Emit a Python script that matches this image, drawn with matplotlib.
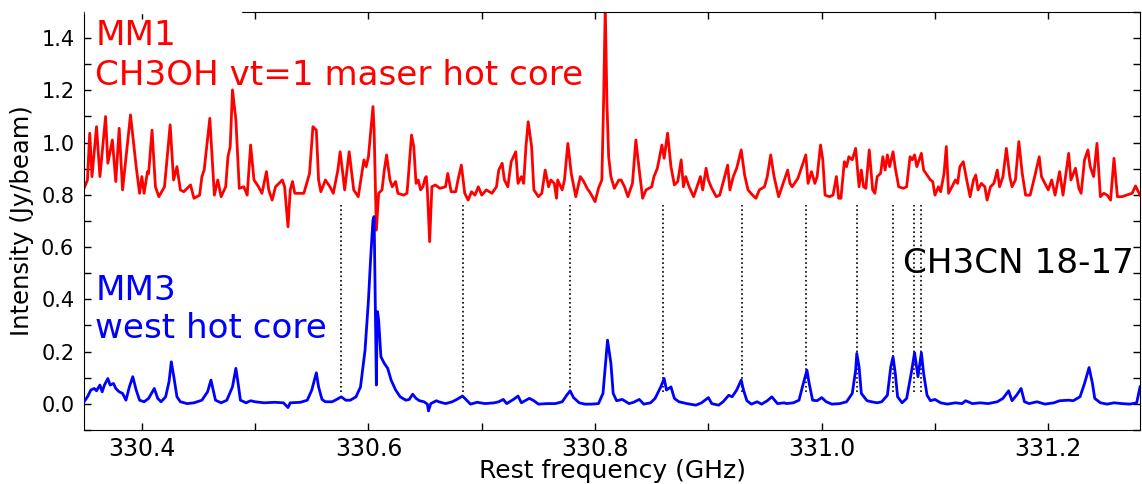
#!/usr/bin/env python3
"""
Espectro MM1 / MM3 na faixa de 330.35-331.28 GHz com as componentes
K de CH3CN 18-17 marcadas por linhas pontilhadas.
"""

import matplotlib
matplotlib.use("Agg")
import matplotlib.pyplot as plt
from matplotlib.ticker import MultipleLocator

# MM1 (CH3OH vt=1 maser hot core), deslocado de +0.8
mm1_freq = [
    330.349, 330.352, 330.354, 330.356, 330.360, 330.363, 330.368, 330.370, 330.374, 330.377,
    330.380, 330.383, 330.390, 330.393, 330.395, 330.398, 330.400, 330.402, 330.405, 330.406,
    330.409, 330.412, 330.415, 330.420, 330.425, 330.428, 330.431, 330.434, 330.437, 330.443,
    330.446, 330.451, 330.453, 330.455, 330.460, 330.464, 330.467, 330.470, 330.474, 330.476,
    330.478, 330.480, 330.483, 330.486, 330.490, 330.493, 330.496, 330.499, 330.503, 330.506,
    330.510, 330.512, 330.515, 330.518, 330.524, 330.526, 330.529, 330.531, 330.533, 330.535,
    330.543, 330.548, 330.551, 330.554, 330.556, 330.558, 330.562, 330.566, 330.569, 330.573,
    330.575, 330.577, 330.579, 330.583, 330.587, 330.591, 330.596, 330.598, 330.600, 330.604,
    330.605, 330.607, 330.609, 330.612, 330.614, 330.616, 330.619, 330.621, 330.624, 330.626,
    330.631, 330.634, 330.635, 330.638, 330.640, 330.642, 330.644, 330.646, 330.648, 330.650,
    330.651, 330.652, 330.654, 330.656, 330.659, 330.663, 330.668, 330.670, 330.673, 330.677,
    330.679, 330.682, 330.685, 330.688, 330.691, 330.694, 330.697, 330.700, 330.704, 330.709,
    330.713, 330.715, 330.718, 330.720, 330.723, 330.726, 330.730, 330.732, 330.735, 330.737,
    330.739, 330.741, 330.744, 330.746, 330.750, 330.753, 330.756, 330.759, 330.761, 330.764,
    330.766, 330.767, 330.771, 330.773, 330.776, 330.779, 330.783, 330.787, 330.790, 330.793,
    330.796, 330.800, 330.803, 330.806, 330.8075, 330.809, 330.8105, 330.812, 330.814, 330.817,
    330.821, 330.823, 330.826, 330.829, 330.833, 330.836, 330.839, 330.842, 330.845, 330.850,
    330.852, 330.855, 330.859, 330.861, 330.864, 330.867, 330.870, 330.873, 330.876, 330.878,
    330.880, 330.883, 330.887, 330.891, 330.893, 330.895, 330.898, 330.900, 330.903, 330.907,
    330.910, 330.914, 330.917, 330.919, 330.922, 330.925, 330.929, 330.932, 330.935, 330.939,
    330.942, 330.945, 330.9495, 330.952, 330.955, 330.958, 330.962, 330.965, 330.967, 330.970,
    330.972, 330.974, 330.979, 330.982, 330.986, 330.988, 330.991, 330.994, 330.996, 330.999,
    331.001, 331.003, 331.007, 331.010, 331.013, 331.015, 331.017, 331.020, 331.022, 331.024,
    331.027, 331.030, 331.033, 331.035, 331.037, 331.039, 331.042, 331.045, 331.047, 331.049,
    331.052, 331.054, 331.056, 331.058, 331.060, 331.063, 331.065, 331.068, 331.072, 331.075,
    331.078, 331.080, 331.082, 331.084, 331.088, 331.090, 331.093, 331.096, 331.098, 331.100,
    331.103, 331.105, 331.108, 331.110, 331.112, 331.115, 331.118, 331.120, 331.122, 331.125,
    331.128, 331.131, 331.134, 331.136, 331.138, 331.141, 331.144, 331.146, 331.149, 331.152,
    331.155, 331.157, 331.160, 331.163, 331.166, 331.168, 331.171, 331.174, 331.177, 331.180,
    331.184, 331.188, 331.192, 331.194, 331.197, 331.200, 331.203, 331.206, 331.210, 331.213,
    331.215, 331.218, 331.220, 331.224, 331.227, 331.229, 331.232, 331.235, 331.237, 331.240,
    331.243, 331.246, 331.249, 331.252, 331.255, 331.258, 331.261, 331.265, 331.269, 331.274,
    331.277, 331.281,
]
mm1_flux = [
    0.825, 0.857, 1.036, 0.870, 1.061, 0.870, 1.100, 0.921, 1.010, 0.851,
    1.055, 0.819, 1.106, 0.985, 0.908, 0.806, 0.870, 0.806, 0.889, 0.882,
    1.048, 0.831, 0.793, 0.831, 1.068, 0.857, 0.908, 0.819, 0.812, 0.838,
    0.787, 0.799, 0.870, 0.895, 1.093, 0.799, 0.857, 0.793, 0.831, 0.946,
    0.985, 1.202, 1.087, 0.825, 0.831, 0.799, 0.991, 0.857, 0.831, 0.806,
    0.889, 0.819, 0.780, 0.831, 0.857, 0.831, 0.678, 0.819, 0.851, 0.806,
    0.806, 0.882, 1.061, 1.048, 0.857, 0.812, 0.857, 0.831, 0.806, 0.895,
    0.965, 0.895, 0.819, 0.965, 0.819, 0.793, 0.934, 0.908, 0.946, 1.138,
    1.048, 0.665, 0.806, 0.819, 0.895, 0.953, 0.857, 0.831, 0.851, 0.806,
    0.799, 0.806, 0.857, 1.029, 0.985, 0.844, 0.857, 0.819, 0.831, 0.863,
    0.870, 0.819, 0.621, 0.831, 0.838, 0.825, 0.831, 0.882, 0.812, 0.812,
    0.857, 0.914, 0.806, 0.780, 0.812, 0.799, 0.831, 0.799, 0.819, 0.806,
    0.831, 0.895, 0.921, 0.857, 0.831, 0.927, 0.965, 0.844, 0.870, 0.844,
    0.985, 1.080, 0.985, 0.819, 0.793, 0.806, 0.895, 0.831, 0.857, 0.844,
    0.787, 0.857, 0.819, 0.857, 0.997, 0.882, 0.793, 0.870, 0.851, 0.825,
    0.806, 0.774, 0.825, 0.857, 1.150, 1.520, 1.150, 0.946, 0.870, 0.825,
    0.857, 0.857, 0.831, 0.793, 0.844, 1.010, 0.895, 0.787, 0.819, 0.831,
    0.870, 0.902, 0.991, 0.940, 1.036, 0.908, 0.838, 0.851, 0.934, 0.831,
    0.870, 0.831, 0.793, 0.844, 0.870, 0.819, 0.902, 0.857, 0.825, 0.793,
    0.799, 0.863, 0.914, 0.819, 0.870, 0.902, 0.972, 0.876, 0.819, 0.799,
    0.787, 0.819, 0.831, 0.870, 0.953, 0.870, 0.793, 0.831, 0.857, 0.895,
    0.844, 0.831, 0.863, 0.902, 0.953, 0.844, 0.889, 0.844, 0.870, 0.991,
    0.934, 0.799, 0.793, 0.799, 0.870, 0.787, 0.787, 0.927, 0.908, 0.946,
    0.934, 0.978, 0.831, 0.895, 0.831, 0.825, 0.972, 0.819, 0.806, 0.870,
    0.882, 0.946, 0.895, 0.953, 0.908, 0.965, 0.902, 0.831, 0.825, 0.831,
    0.946, 0.934, 0.953, 0.908, 0.959, 0.895, 0.876, 0.857, 0.851, 0.799,
    0.831, 0.812, 0.882, 0.985, 0.806, 0.831, 0.857, 0.844, 0.908, 0.927,
    0.857, 0.793, 0.857, 0.876, 0.819, 0.844, 0.831, 0.780, 0.831, 0.844,
    0.895, 0.831, 0.870, 0.978, 0.870, 0.831, 0.857, 1.004, 0.882, 0.799,
    0.799, 0.870, 0.946, 0.870, 0.844, 0.819, 0.857, 0.799, 0.889, 0.799,
    0.863, 0.959, 0.857, 0.902, 0.825, 0.806, 0.934, 0.972, 0.908, 0.870,
    0.997, 0.793, 0.806, 0.799, 0.780, 0.940, 0.793, 0.793, 0.799, 0.806,
    0.834, 0.799,
]

# MM3 (west hot core)
mm3_freq = [
    330.349, 330.352, 330.355, 330.358, 330.360, 330.363, 330.365, 330.367, 330.370, 330.372,
    330.375, 330.377, 330.380, 330.383, 330.386, 330.389, 330.392, 330.395, 330.398, 330.402,
    330.406, 330.411, 330.414, 330.417, 330.421, 330.424, 330.426, 330.428, 330.431, 330.434,
    330.440, 330.446, 330.453, 330.458, 330.461, 330.463, 330.465, 330.470, 330.475, 330.480,
    330.483, 330.485, 330.487, 330.492, 330.496, 330.500, 330.508, 330.517, 330.525, 330.529,
    330.531, 330.540, 330.546, 330.550, 330.554, 330.556, 330.559, 330.562, 330.568, 330.572,
    330.576, 330.580, 330.584, 330.589, 330.593, 330.597, 330.600, 330.602, 330.604, 330.605,
    330.606, 330.607, 330.6075, 330.608, 330.609, 330.611, 330.614, 330.617, 330.620, 330.624,
    330.628, 330.633, 330.636, 330.639, 330.642, 330.645, 330.649, 330.652, 330.653, 330.655,
    330.660, 330.662, 330.668, 330.674, 330.678, 330.683, 330.686, 330.690, 330.696, 330.703,
    330.711, 330.715, 330.719, 330.722, 330.728, 330.732, 330.735, 330.739, 330.742, 330.746,
    330.750, 330.758, 330.765, 330.771, 330.775, 330.778, 330.781, 330.786, 330.791, 330.797,
    330.803, 330.807, 330.809, 330.811, 330.814, 330.816, 330.819, 330.824, 330.830, 330.834,
    330.839, 330.843, 330.849, 330.853, 330.858, 330.861, 330.863, 330.867, 330.870, 330.874,
    330.881, 330.889, 330.894, 330.900, 330.903, 330.909, 330.913, 330.918, 330.921, 330.925,
    330.929, 330.931, 330.934, 330.938, 330.943, 330.947, 330.952, 330.956, 330.961, 330.967,
    330.969, 330.975, 330.980, 330.983, 330.987, 330.989, 330.992, 330.996, 331.000, 331.004,
    331.009, 331.016, 331.022, 331.027, 331.030, 331.031, 331.033, 331.035, 331.040, 331.044,
    331.049, 331.053, 331.058, 331.061, 331.063, 331.065, 331.067, 331.071, 331.075, 331.079,
    331.082, 331.085, 331.088, 331.090, 331.093, 331.096, 331.100, 331.105, 331.111, 331.118,
    331.124, 331.127, 331.133, 331.140, 331.147, 331.155, 331.160, 331.165, 331.168, 331.172,
    331.176, 331.179, 331.183, 331.190, 331.197, 331.205, 331.210, 331.218, 331.222, 331.228,
    331.232, 331.236, 331.239, 331.241, 331.246, 331.252, 331.258, 331.265, 331.272, 331.278,
    331.281,
]
mm3_flux = [
    0.008, 0.027, 0.053, 0.059, 0.050, 0.072, 0.046, 0.072, 0.097, 0.072,
    0.078, 0.059, 0.046, 0.040, 0.014, 0.065, 0.104, 0.053, 0.014, 0.008,
    0.021, 0.059, 0.021, 0.008, 0.027, 0.085, 0.161, 0.110, 0.027, 0.008,
    0.001, 0.004, 0.014, 0.046, 0.091, 0.053, 0.014, 0.004, 0.014, 0.065,
    0.136, 0.078, 0.014, 0.004, 0.012, 0.008, 0.004, 0.006, 0.004, -0.014,
    0.004, 0.006, 0.014, 0.053, 0.119, 0.065, 0.017, 0.008, 0.008, 0.017,
    0.027, 0.014, 0.014, 0.027, 0.065, 0.206, 0.397, 0.563, 0.704, 0.717,
    0.397, 0.072, 0.270, 0.353, 0.321, 0.180, 0.155, 0.136, 0.091, 0.053,
    0.027, 0.014, 0.017, 0.037, 0.021, 0.012, 0.008, -0.001, -0.027, 0.001,
    0.012, 0.008, 0.001, 0.008, 0.017, 0.030, 0.017, -0.001, 0.006, 0.001,
    0.004, 0.008, 0.017, 0.001, 0.017, 0.030, 0.004, 0.014, 0.021, 0.012,
    -0.001, 0.001, 0.001, 0.008, 0.033, 0.050, 0.024, 0.004, -0.001, -0.001,
    0.001, 0.040, 0.142, 0.244, 0.155, 0.040, 0.012, 0.017, 0.001, 0.006,
    0.017, -0.001, 0.004, 0.021, 0.065, 0.097, 0.053, 0.065, 0.021, 0.008,
    0.001, -0.005, 0.004, 0.024, 0.001, -0.005, 0.008, 0.033, 0.027, 0.053,
    0.091, 0.053, 0.012, -0.001, 0.008, -0.001, 0.012, 0.027, 0.001, 0.004,
    0.001, 0.004, 0.014, 0.065, 0.129, 0.078, 0.014, 0.012, 0.024, 0.008,
    -0.001, 0.001, 0.008, 0.040, 0.129, 0.193, 0.142, 0.040, 0.012, 0.008,
    0.004, 0.008, 0.033, 0.142, 0.180, 0.116, 0.027, 0.004, 0.021, 0.116,
    0.196, 0.104, 0.196, 0.116, 0.033, 0.012, 0.017, 0.004, -0.001, 0.004,
    0.001, 0.012, 0.001, 0.004, 0.001, 0.008, 0.021, 0.050, 0.012, 0.033,
    0.059, 0.008, 0.001, 0.008, -0.001, 0.004, 0.012, 0.014, 0.012, 0.027,
    0.078, 0.139, 0.078, 0.021, 0.004, -0.001, 0.004, 0.001, -0.001, 0.004,
    0.065,
]

# componentes K=9..0 de CH3CN 18-17
ch3cn_freq = [330.5756, 330.6833, 330.7778, 330.8601, 330.9298,
              330.9863, 331.0311, 331.0628, 331.0816, 331.0876]
marker_low = 0.045
marker_high = 0.76


def main() -> None:
    fig = plt.figure(figsize=(11.42, 4.84), dpi=100)
    ax = fig.add_axes([0.0736, 0.1116, 0.9247, 0.8636])

    ax.vlines(ch3cn_freq, marker_low, marker_high, colors="black",
              linestyles=":", linewidth=1.2, zorder=1)
    ax.plot(mm1_freq, mm1_flux, color="red", lw=2.0, zorder=2)
    ax.plot(mm3_freq, mm3_flux, color="blue", lw=2.0, zorder=3)

    fs = 24.6
    ax.text(330.3588, 1.374, "MM1", color="red", fontsize=fs)
    ax.text(330.3588, 1.221, "CH3OH vt=1 maser hot core", color="red", fontsize=fs)
    ax.text(330.3588, 0.397, "MM3", color="blue", fontsize=fs)
    ax.text(330.3588, 0.254, "west hot core", color="blue", fontsize=fs)
    ax.text(331.0719, 0.501, "CH3CN 18-17", color="black", fontsize=fs)

    ax.set_xlim(330.349, 331.281)
    ax.set_ylim(-0.1, 1.5)
    ax.xaxis.set_major_locator(MultipleLocator(0.2))
    ax.xaxis.set_minor_locator(MultipleLocator(0.1))
    ax.yaxis.set_major_locator(MultipleLocator(0.2))
    ax.yaxis.set_minor_locator(MultipleLocator(0.1))
    ax.tick_params(which="both", direction="in", top=True, right=True,
                   length=5, width=1)
    ax.tick_params(axis="y", pad=7, labelsize=15)
    ax.tick_params(axis="x", pad=5, labelsize=17)
    ax.set_xlabel("Rest frequency (GHz)", fontsize=18, labelpad=-1.5)
    ax.set_ylabel("Intensity (Jy/beam)", fontsize=17.5, labelpad=5)

    # pedaço da borda superior escondido atrás do rótulo
    ax.plot([0.002, 0.148], [1, 1], transform=ax.transAxes, color="white",
            lw=2.5, clip_on=False, zorder=5)

    fig.savefig("out.png", dpi=100, facecolor="white")
    plt.close(fig)


if __name__ == "__main__":
    main()
